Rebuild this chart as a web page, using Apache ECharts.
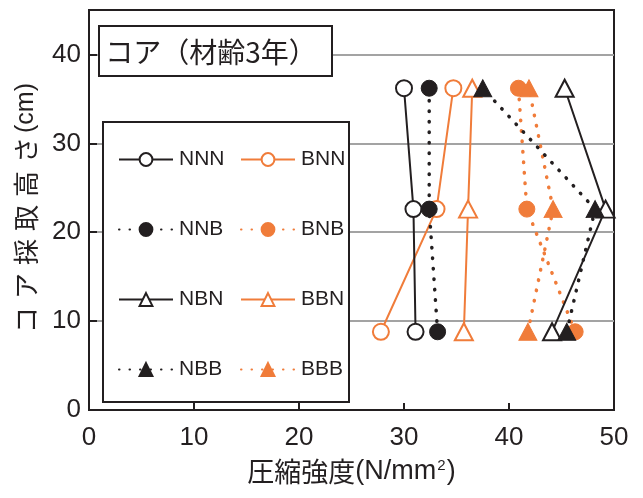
<!DOCTYPE html>
<html>
<head>
<meta charset="utf-8">
<script src="https://cdn.jsdelivr.net/npm/echarts@6/dist/echarts.min.js"></script>
<style>
  html, body { margin: 0; padding: 0; background: #fff; }
  #chart { width: 643px; height: 498px; }
</style>
</head>
<body>
<div id="chart"></div>
<script>
// Core sampling heights (cm)
const heights = [8.8, 22.6, 36.2];

// Compressive strength (N/mm2) at each height, bottom to top
const NNN = [31.1, 30.9, 30.0];
const NNB = [33.2, 32.4, 32.4];
const NBN = [44.1, 49.2, 45.3];
const NBB = [45.5, 48.2, 37.5];
const BNN = [27.8, 33.1, 34.7];
const BNB = [46.3, 41.7, 40.9];
const BBN = [35.7, 36.1, 36.5];
const BBB = [41.8, 44.2, 41.9];

const xTicks = [0, 10, 20, 30, 40, 50];
const yTicks = [0, 10, 20, 30, 40];

const BLACK = '#231f20';
const ORANGE = '#f07c3a';
const LATIN = '"Liberation Sans", Arial, sans-serif';
const CJK = '"Noto Sans CJK JP", sans-serif';

function pairs(xs) {
  return xs.map((v, i) => [v, heights[i]]);
}

function makeSeries(name, xs, color, dotted, symbol, filled) {
  const isTri = symbol === 'triangle';
  return {
    name: name,
    type: 'line',
    data: pairs(xs),
    symbol: symbol,
    symbolSize: isTri ? [18, 17] : 16,
    showAllSymbol: true,
    z: color === BLACK ? 4 : 3,
    lineStyle: dotted
      ? { color: color, width: 3.5, type: [0.5, 10], cap: 'round' }
      : { color: color, width: 2 },
    itemStyle: filled
      ? { color: color, borderColor: color, borderWidth: 1 }
      : { color: '#ffffff', borderColor: color, borderWidth: 2 },
    emphasis: { disabled: true },
    animation: false
  };
}

const series = [
  makeSeries('BNN', BNN, ORANGE, false, 'circle', false),
  makeSeries('BNB', BNB, ORANGE, true, 'circle', true),
  makeSeries('BBN', BBN, ORANGE, false, 'triangle', false),
  makeSeries('BBB', BBB, ORANGE, true, 'triangle', true),
  makeSeries('NNN', NNN, BLACK, false, 'circle', false),
  makeSeries('NNB', NNB, BLACK, true, 'circle', true),
  makeSeries('NBN', NBN, BLACK, false, 'triangle', false),
  makeSeries('NBB', NBB, BLACK, true, 'triangle', true)
];

const legendCommon = {
  orient: 'vertical',
  itemWidth: 54,
  itemHeight: 16,
  itemGap: 49,
  z: 10,
  padding: 0,
  selectedMode: false,
  textStyle: { color: BLACK, fontSize: 21, fontFamily: LATIN, padding: [0, 0, 0, 1] }
};

// vertical axis title, one token per character so the glyphs are evenly spaced
const yNameChars = ['コ', 'ア', '採', '取', '高', 'さ'];
const yName = yNameChars.map(ch => '{c|' + ch + '}').join('') + '{n|(cm)}';

const chart = echarts.init(document.getElementById('chart'), null, { renderer: 'canvas' });

chart.setOption({
  backgroundColor: '#fff',
  animation: false,
  grid: {
    left: 89, right: 29, top: 10, bottom: 88,
    show: true, borderColor: BLACK, borderWidth: 2, backgroundColor: 'transparent'
  },
  xAxis: {
    type: 'value',
    min: xTicks[0], max: xTicks[xTicks.length - 1], interval: 10,
    name: '{c|圧縮強度}{n|(N/mm}{s|2}{n|)}',
    nameLocation: 'middle',
    nameGap: 48,
    nameTextStyle: {
      rich: {
        c: { fontFamily: CJK, fontSize: 27, color: BLACK },
        n: { fontFamily: LATIN, fontSize: 27, color: BLACK },
        s: { fontFamily: LATIN, fontSize: 15, color: BLACK, verticalAlign: 'top', padding: [0, 1, 13, 1] }
      }
    },
    axisLine: { lineStyle: { color: BLACK, width: 2 } },
    axisTick: { inside: true, length: 7, lineStyle: { color: BLACK, width: 2 } },
    axisLabel: { color: BLACK, fontSize: 26, fontFamily: LATIN, margin: 15 },
    splitLine: { show: false }
  },
  yAxis: {
    type: 'value',
    min: 0, max: 45, interval: 10,
    name: yName,
    nameLocation: 'middle',
    nameRotate: 90,
    nameGap: 50,
    nameTextStyle: {
      padding: [0, 0, 0, 0],
      rich: {
        c: { fontFamily: CJK, fontSize: 26, color: BLACK, width: 34, align: 'center' },
        n: { fontFamily: LATIN, fontSize: 25, color: BLACK }
      }
    },
    axisLine: { lineStyle: { color: BLACK, width: 2 } },
    axisTick: { inside: true, length: 8, lineStyle: { color: BLACK, width: 2 } },
    axisLabel: {
      color: BLACK, fontSize: 26, fontFamily: LATIN, margin: 8,
      showMaxLabel: false
    },
    splitLine: {
      show: true, showMinLine: false, showMaxLine: false,
      lineStyle: { color: '#a3a3a3', width: 2 }
    }
  },
  legend: [
    Object.assign({}, legendCommon, { left: 118, top: 149, data: ['NNN', 'NNB', 'NBN', 'NBB'] }),
    Object.assign({}, legendCommon, { left: 240, top: 149, data: ['BNN', 'BNB', 'BBN', 'BBB'] })
  ],
  graphic: [
    {
      type: 'rect', z: 5,
      shape: { x: 103, y: 122, width: 246, height: 280 },
      style: { fill: '#fff', stroke: BLACK, lineWidth: 2 }
    },
    {
      type: 'rect', z: 5,
      shape: { x: 99, y: 26, width: 233, height: 50 },
      style: { fill: '#fff', stroke: BLACK, lineWidth: 2 }
    },
    {
      type: 'text', z: 6,
      x: 211, y: 52,
      style: {
        text: 'コア（材齢3年）',
        font: '28px ' + CJK,
        fill: BLACK,
        align: 'center',
        verticalAlign: 'middle'
      }
    }
  ],
  series: series
});
</script>
</body>
</html>
